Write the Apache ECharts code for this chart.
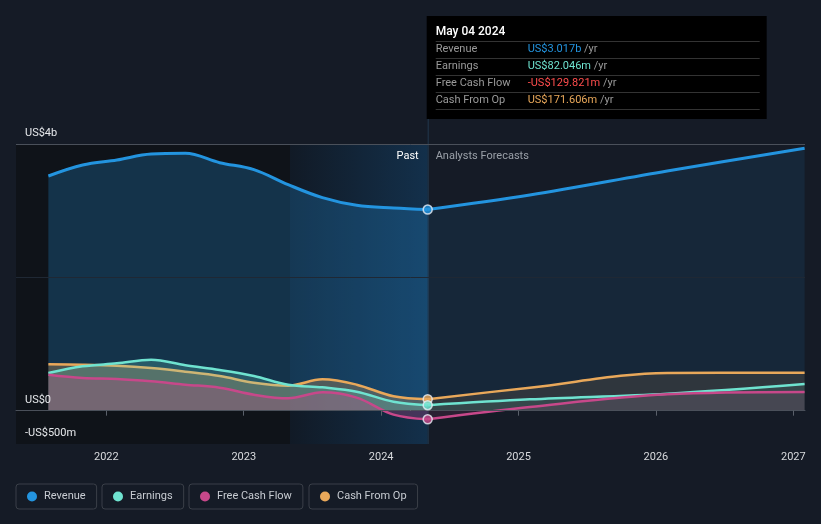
<!DOCTYPE html>
<html><head><meta charset="utf-8">
<script src="https://cdn.jsdelivr.net/npm/echarts@6/dist/echarts.min.js"></script>
<style>html,body{margin:0;padding:0;background:#151b26;}#c{width:821px;height:524px;}</style>
</head><body><div id="c"></div><script>
// ---- data ----
const pastDates = ['2021-07-31','2021-10-30','2022-01-29','2022-04-30','2022-07-30','2022-10-29','2023-01-28','2023-04-29','2023-07-29','2023-10-28','2024-02-03','2024-05-04'];
const forecastDates = ['2024-05-04','2025-01-31','2026-01-31','2027-01-31'];
const revenuePast = [3520,3685,3760,3850,3860,3720,3615,3390,3195,3080,3040,3017];
const revenueForecast = [3017,3235,3595,3935];
const earningsPast = [565,665,710,765,680,610,520,390,350,285,135,82];
const earningsForecast = [82,170,255,400];
const fcfPast = [540,490,475,440,390,345,240,185,275,195,-60,-130];
const fcfForecast = [-130,55,245,280];
const cfoPast = [695,690,675,640,585,520,420,375,470,390,215,172];
const cfoForecast = [172,345,565,570];
const yearLabels = [2022,2023,2024,2025,2026,2027];
const yLabels = {'-500':'-US$500m','0':'US$0','4000':'US$4b'};
const currentDate = '2024-05-04';
const highlightStart = '2023-05-04';
const xMin = '2021-05-06', xMax = '2027-02-01';
const tipTitle = 'May 04 2024';
const tipNames = ['Revenue','Earnings','Free Cash Flow','Cash From Op'];
const tipValues = ['US$3.017b','US$82.046m','-US$129.821m','US$171.606m'];

// ---- chart ----
// date string -> decimal year (x axis is a value axis in years)
const T = s => { const [y,m,d] = s.split('-').map(Number);
  const a = Date.UTC(y,0,1), b = Date.UTC(y+1,0,1), t = Date.UTC(y,m-1,d);
  return y + (t-a)/(b-a); };
const pairs = (dates, vals) => dates.map((d,i) => [T(d), vals[i]]);
const C = {rev:'#2394df', earn:'#6fe3d0', fcf:'#c7488a', cfo:'#e9a85a'};
const tipColors = [C.rev, C.earn, '#ff4d4d', C.cfo];
const font = 'Roboto, "Noto Sans", sans-serif';

function line(name, color, dates, vals, width, op, z) {
  return {type:'line', name, data: pairs(dates, vals), smooth: 0.35, symbol:'none',
    lineStyle:{color, width}, itemStyle:{color}, color,
    areaStyle:{color, opacity: op}, emphasis:{disabled:true}, silent:true, z};
}

const chart = echarts.init(document.getElementById('c'));

const series = [
  {type:'line', name:'bg', data:[], silent:true, z:1,
    markArea:{silent:true, z:1, data:[
      [{xAxis:T(xMin), itemStyle:{color:'#0f1319'}}, {xAxis:T(highlightStart)}],
      [{xAxis:T(highlightStart), itemStyle:{color:new echarts.graphic.LinearGradient(0,0,1,0,[{offset:0,color:'#111a26'},{offset:1,color:'#13304b'}])}}, {xAxis:T(currentDate)}]
    ]},
    markLine:{silent:true, symbol:'none', label:{show:false}, z:4, data:[
      {yAxis:0, lineStyle:{color:'#c9ccd1', width:1, type:'solid'}},
      {yAxis:2000, lineStyle:{color:'#1f2834', width:1, type:'solid'}},
      {yAxis:4000, lineStyle:{color:'#4a505a', width:1, type:'solid'}}
    ]}
  },
  line('Revenue', C.rev, pastDates, revenuePast, 3, 0.25, 3),
  line('Revenue', C.rev, forecastDates, revenueForecast, 3, 0.1, 3),
  line('Cash From Op', C.cfo, pastDates, cfoPast, 2.5, 0.28, 5),
  line('Cash From Op', C.cfo, forecastDates, cfoForecast, 2.5, 0.12, 5),
  line('Earnings', C.earn, pastDates, earningsPast, 2.5, 0.22, 6),
  line('Earnings', C.earn, forecastDates, earningsForecast, 2.5, 0.1, 6),
  line('Free Cash Flow', C.fcf, pastDates, fcfPast, 2.5, 0.28, 7),
  line('Free Cash Flow', C.fcf, forecastDates, fcfForecast, 2.5, 0.12, 7),
  {type:'scatter', name:'now', silent:true, z:10, symbolSize:9,
    data:[
      {value:[T(currentDate), revenuePast[revenuePast.length-1]], itemStyle:{color:C.rev}},
      {value:[T(currentDate), cfoPast[cfoPast.length-1]], itemStyle:{color:C.cfo}},
      {value:[T(currentDate), earningsPast[earningsPast.length-1]], itemStyle:{color:C.earn}},
      {value:[T(currentDate), fcfPast[fcfPast.length-1]], itemStyle:{color:C.fcf}}
    ],
    itemStyle:{borderColor:'#e8eef5', borderWidth:1.5}}
];

const legendLefts = [16, 102, 189, 309];
const legendNames = ['Revenue','Earnings','Free Cash Flow','Cash From Op'];
const legends = legendNames.map((n,i) => ({
  left: legendLefts[i], top: 484, orient:'horizontal',
  data:[{name:n, icon:'circle'}], itemWidth:10, itemHeight:10,
  padding:[7,11,7,11], borderColor:'#3a3f48', borderWidth:1, borderRadius:3,
  textStyle:{color:'#c8ccd2', fontSize:11, fontFamily:font, padding:[0,0,0,2]},
  selectedMode:false
}));

chart.setOption({
  backgroundColor:'#151b26',
  animation:false,
  grid:{left:16, right:16, top:144, bottom:80},
  legend: legends,
  xAxis:{type:'value', min:T(xMin), max:T(xMax), z:10,
    axisLine:{lineStyle:{color:'#4a505a'}},
    axisTick:{show:true, length:5, lineStyle:{color:'#5a606a'}, customValues:yearLabels},
    axisLabel:{customValues:yearLabels, formatter:v => String(Math.round(v)), color:'#d8dadd', fontSize:11, fontFamily:font, margin:8},
    splitLine:{show:false}},
  yAxis:{type:'value', min:-500, max:4000, interval:500, z:10,
    axisLine:{show:false}, axisTick:{show:false}, splitLine:{show:false},
    axisLabel:{inside:true, margin:9, color:'#e6e8eb', fontSize:11, fontFamily:font,
      verticalAlign:'bottom', padding:[0,0,5,0],
      formatter:v => yLabels[String(v)] || ''}},
  series
});

const cx = chart.convertToPixel({xAxisIndex:0}, T(currentDate));
const gb = chart.convertToPixel({yAxisIndex:0}, -500);
const g = [
  {type:'line', z:2, silent:true, shape:{x1:cx+0.5, y1:16, x2:cx+0.5, y2:gb}, style:{stroke:'#22384e', lineWidth:1}},
  {type:'text', z:20, silent:true, x:cx-9, y:156, style:{text:'Past', fill:'#ffffff', font:'11px '+font, align:'right', verticalAlign:'middle'}},
  {type:'text', z:20, silent:true, x:cx+8, y:156, style:{text:'Analysts Forecasts', fill:'#9aa0a8', font:'11px '+font, align:'left', verticalAlign:'middle'}},
  {type:'rect', z:100, silent:true, shape:{x:cx-1, y:16, width:340, height:103}, style:{fill:'#000000'}},
  {type:'text', z:101, silent:true, x:cx+8, y:31.5, style:{text:tipTitle, fill:'#ffffff', font:'500 12px '+font, verticalAlign:'middle'}}
];
const sepY = [41.5, 58.5, 75.5, 92.5, 109.5];
sepY.forEach(y => g.push({type:'line', z:101, silent:true, shape:{x1:cx+8, y1:y, x2:cx+332, y2:y}, style:{stroke:'#333333', lineWidth:1}}));
const rowY = [49.5, 66.5, 83.5, 100.5];
tipNames.forEach((n,i) => {
  g.push({type:'text', z:101, silent:true, x:cx+8, y:rowY[i], style:{text:n, fill:'#9a9a9a', font:'11px '+font, verticalAlign:'middle'}});
  g.push({type:'text', z:101, silent:true, x:cx+100, y:rowY[i], style:{
    text:'{v|' + tipValues[i] + '} {u|/yr}', verticalAlign:'middle', font:'11px '+font,
    rich:{v:{fill:tipColors[i], font:'11px '+font}, u:{fill:'#9a9a9a', font:'11px '+font}}}});
});
chart.setOption({graphic: g});
</script></body></html>
